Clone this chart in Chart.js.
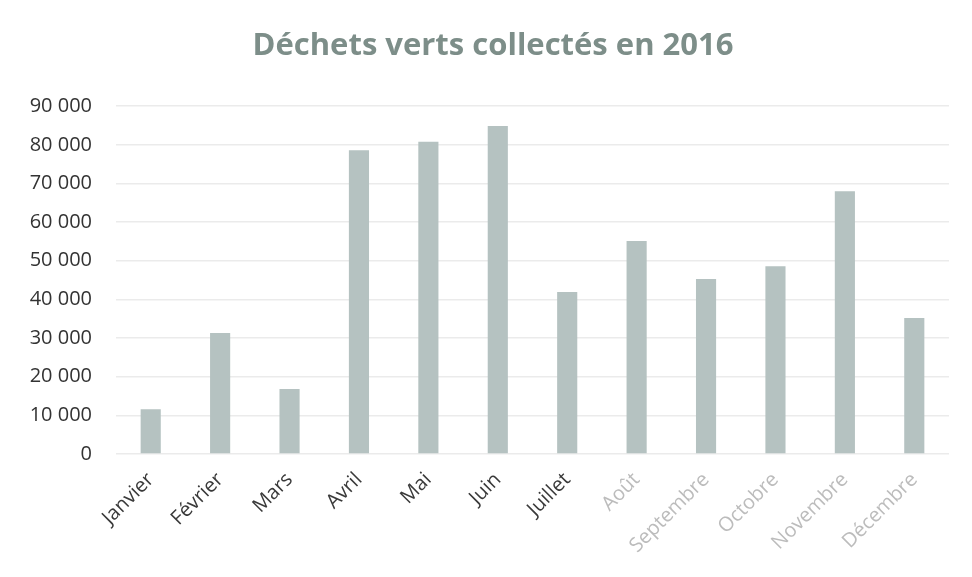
<!DOCTYPE html>
<html>
<head>
<meta charset="utf-8">
<script src="https://cdn.jsdelivr.net/npm/chart.js@4.4.0/dist/chart.umd.min.js"></script>
<style>
  html, body { margin: 0; padding: 0; background: #ffffff; }
  #wrap { width: 972px; height: 577px; }
</style>
</head>
<body>
<div id="wrap"><canvas id="myChart" width="972" height="577"></canvas></div>
<script>
// DATA
const months = ["Janvier", "Février", "Mars", "Avril", "Mai", "Juin", "Juillet",
                "Août", "Septembre", "Octobre", "Novembre", "Décembre"];
const tonnage = [11600, 31300, 16800, 78600, 80800, 84900, 41900,
                 55100, 45300, 48600, 68000, 35200];
const yTicks = [0, 10000, 20000, 30000, 40000, 50000, 60000, 70000, 80000, 90000];

// the scan fades the last labels out
const monthColors = months.map((m, i) => i < 7 ? "#3a3a3a" : "#bcbcbc");

const fmt = v => String(v).replace(/\B(?=(\d{3})+(?!\d))/g, " ");

// title sits a bit right of the canvas centre in the original
const shiftTitle = {
    id: "shiftTitle",
    afterLayout(chart) {
        if (chart.titleBlock) chart.titleBlock.left = 37;
    },
};

// CONFIG
const config = {
    type: "bar",
    data: {
        labels: months,
        datasets: [
            {
                label: "Déchets verts",
                data: tonnage,
                backgroundColor: "#b5c2c1",
                barPercentage: 0.58,
                categoryPercentage: 0.5,
            },
        ],
    },
    options: {
        responsive: false,
        animation: false,
        layout: {
            padding: { left: 0, right: 23, top: 0, bottom: 0 },
        },
        scales: {
            x: {
                grid: { display: false },
                border: { display: false },
                ticks: {
                    color: monthColors,
                    font: { family: "Open Sans", size: 20 },
                    minRotation: 45,
                    maxRotation: 45,
                    autoSkip: false,
                    padding: 6,
                },
                afterFit: s => { s.height = 123; },
            },
            y: {
                min: 0,
                max: 90000,
                afterBuildTicks: s => { s.ticks = yTicks.map(v => ({ value: v })); },
                grid: { color: "#ebebeb", lineWidth: 1.5, drawTicks: false },
                border: { display: false },
                ticks: {
                    color: "#333333",
                    font: { family: "Open Sans", size: 20 },
                    padding: 24,
                    callback: v => fmt(v),
                },
                afterFit: s => { s.width = 116; },
            },
        },
        plugins: {
            legend: { display: false },
            tooltip: { enabled: false },
            title: {
                display: true,
                text: "Déchets verts collectés en 2016",
                color: "#7d8e89",
                font: { family: "Open Sans", size: 31, weight: "bold" },
                padding: { top: 28, bottom: 41 },
            },
        },
    },
    plugins: [shiftTitle],
};

const myChart = new Chart(document.getElementById("myChart"), config);
</script>
</body>
</html>
